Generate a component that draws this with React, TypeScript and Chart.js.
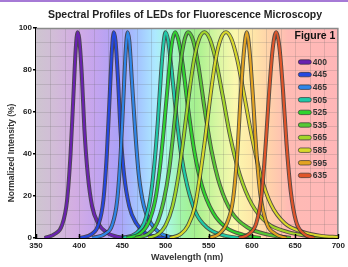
import React, { useEffect, useRef } from "react";
import { Chart, registerables } from "chart.js";

Chart.register(...registerables);

const chartTitle = "Spectral Profiles of LEDs for Fluorescence Microscopy";
const xTitle = "Wavelength (nm)";
const yTitle = "Normalized Intensity (%)";
const figureLabel = "Figure 1";

const ledLabels = ["400", "445", "465", "505", "525", "535", "565", "585", "595", "635"];
const ledColors = ["#6a22b0", "#2448e0", "#2f86e8", "#1fc9a8", "#2fd42f", "#56c834", "#a3d62a", "#d9d92c", "#e3a322", "#e0552a"];

const profile400 = [[360,0],[372,2],[380,6],[386,18],[390,40],[393,65],[396,90],[398,98],[400,95],[403,78],[406,52],[410,30],[415,15],[422,7],[432,2.5],[445,0.5],[460,0]];
const profile445 = [[400,0],[415,2],[422,6],[428,18],[432,40],[435,65],[438,90],[440,98],[442,94],[445,75],[448,50],[452,30],[458,15],[466,7],[476,2.5],[490,0.5],[500,0]];
const profile465 = [[415,0],[430,2],[438,6],[444,18],[448,40],[451,65],[454,90],[456,98],[458,94],[461,75],[465,50],[469,30],[475,15],[483,7],[493,2.5],[505,0.5],[515,0]];
const profile505 = [[450,0],[465,2],[475,7],[482,18],[487,35],[491,55],[495,80],[498,94],[500,98],[503,94],[507,80],[512,60],[518,40],[525,25],[535,12],[548,5],[565,1.5],[585,0]];
const profile525 = [[455,0],[470,2],[480,7],[488,18],[493,32],[498,52],[503,75],[507,92],[511,98],[515,94],[520,82],[526,62],[533,42],[542,25],[555,12],[570,5],[590,1.5],[610,0]];
const profile535 = [[465,0],[480,2],[490,7],[498,18],[504,32],[509,50],[514,70],[519,88],[526,98],[532,94],[538,82],[545,62],[553,42],[563,25],[577,12],[595,5],[620,1.5],[645,0]];
const profile565 = [[480,0],[492,2],[500,6],[508,15],[515,30],[521,48],[527,68],[533,85],[539,95],[545,98],[551,95],[558,85],[566,68],[575,48],[586,30],[600,16],[618,7],[640,3],[665,1],[700,0.3]];
const profile585 = [[505,0],[518,2],[526,6],[534,15],[540,30],[546,48],[552,68],[558,85],[564,95],[570,98],[576,95],[583,85],[591,68],[600,48],[610,30],[622,16],[638,7],[658,3],[680,1],[700,0.5]];
const profile595 = [[550,0],[562,2],[571,7],[578,18],[583,40],[587,68],[591,90],[594,98],[597,90],[601,68],[605,42],[610,20],[617,7],[627,2],[640,0]];
const profile635 = [[585,0],[597,2],[605,7],[611,20],[616,45],[620,70],[624,90],[628,98],[632,90],[636,70],[640,45],[645,22],[651,8],[660,2],[672,0]];

const profiles = [profile400, profile445, profile465, profile505, profile525, profile535, profile565, profile585, profile595, profile635];

const bgWavelengths = [350, 372, 395, 420, 445, 468, 488, 502, 518, 535, 558, 580, 600, 620, 642, 700];
const bgColors = ["#cec5d0", "#d2bcd8", "#d3ade3", "#c3a4ef", "#aca2f8", "#a3c4ff", "#ade9ff", "#aaf8e4", "#a2f4a8", "#a6f08e", "#d4f6a0", "#fbf8ae", "#ffe7a8", "#ffd2aa", "#ffbbb4", "#ffb6b8"];

const xMin = 350, xMax = 700, xStep = 50;
const yMin = 0, yMax = 100, yStep = 20;
const gridDiv = 3;

const FONT = "'Liberation Sans', Arial, sans-serif";
const OUTLINE = "rgba(45,45,45,0.8)";

const decor = {
  id: "decor",
  beforeDraw(chart: any) {
    const ctx = chart.ctx;
    ctx.save();
    ctx.fillStyle = "#a67ad6";
    ctx.fillRect(0, 0, chart.width, 2);
    ctx.restore();
  },
  beforeDatasetsDraw(chart: any) {
    const { ctx, chartArea: a, scales } = chart;
    const xs = scales.x, ys = scales.y;
    ctx.save();
    const g = ctx.createLinearGradient(a.left, 0, a.right, 0);
    bgWavelengths.forEach((w, i) => g.addColorStop((xs.getPixelForValue(w) - a.left) / (a.right - a.left), bgColors[i]));
    ctx.fillStyle = g;
    ctx.fillRect(a.left, a.top, a.right - a.left, a.bottom - a.top);
    ctx.strokeStyle = "rgba(100,100,100,0.2)";
    ctx.lineWidth = 1;
    const nx = ((xMax - xMin) / xStep) * gridDiv;
    for (let k = 1; k < nx; k++) {
      const px = Math.round(xs.getPixelForValue(xMin + (k * xStep) / gridDiv)) + 0.5;
      ctx.beginPath(); ctx.moveTo(px, a.top); ctx.lineTo(px, a.bottom); ctx.stroke();
    }
    const ny = ((yMax - yMin) / yStep) * gridDiv;
    for (let k = 1; k < ny; k++) {
      const py = Math.round(ys.getPixelForValue(yMin + (k * yStep) / gridDiv)) + 0.5;
      ctx.beginPath(); ctx.moveTo(a.left, py); ctx.lineTo(a.right, py); ctx.stroke();
    }
    ctx.strokeStyle = "#8a8a8a";
    ctx.lineWidth = 1.5;
    ctx.beginPath();
    ctx.moveTo(a.left, a.top + 0.5); ctx.lineTo(a.right - 0.5, a.top + 0.5); ctx.lineTo(a.right - 0.5, a.bottom);
    ctx.stroke();
    ctx.restore();
  },
  afterDatasetsDraw(chart: any) {
    const { ctx, chartArea: a, scales } = chart;
    ctx.save();
    ctx.strokeStyle = "#000";
    ctx.lineWidth = 1.5;
    scales.x.ticks.forEach((t: any) => {
      const px = Math.round(scales.x.getPixelForValue(t.value)) + 0.5;
      ctx.beginPath(); ctx.moveTo(px, a.bottom); ctx.lineTo(px, a.bottom - 4); ctx.stroke();
    });
    ctx.fillStyle = "#111";
    ctx.font = `bold 10.5px ${FONT}`;
    ctx.textAlign = "right";
    ctx.textBaseline = "middle";
    ctx.fillText(figureLabel, a.right - 3, a.top + 8);
    const lx = a.right - 40, ly0 = a.top + 34, dy = 12.6;
    ledLabels.forEach((lab, i) => {
      const y = ly0 + i * dy;
      ctx.beginPath();
      const w = 13, h = 4.5, r = 2.2;
      ctx.moveTo(lx + r, y - h / 2);
      ctx.lineTo(lx + w - r, y - h / 2);
      ctx.arc(lx + w - r, y, r, -Math.PI / 2, Math.PI / 2);
      ctx.lineTo(lx + r, y + h / 2);
      ctx.arc(lx + r, y, r, Math.PI / 2, (3 * Math.PI) / 2);
      ctx.closePath();
      ctx.fillStyle = ledColors[i];
      ctx.fill();
      ctx.strokeStyle = OUTLINE;
      ctx.lineWidth = 0.8;
      ctx.stroke();
      ctx.fillStyle = "#333";
      ctx.font = `bold 8.5px ${FONT}`;
      ctx.textAlign = "left";
      ctx.fillText(lab, lx + w + 1.5, y + 0.5);
    });
    ctx.restore();
  },
  afterDraw(chart: any) {
    const { ctx, chartArea: a } = chart;
    ctx.save();
    ctx.fillStyle = "#222";
    ctx.font = `bold 10.5px ${FONT}`;
    ctx.textAlign = "center";
    ctx.textBaseline = "middle";
    ctx.fillText(chartTitle, 185, 15);
    ctx.fillStyle = "#333";
    ctx.font = `bold 9px ${FONT}`;
    ctx.fillText(xTitle, (a.left + a.right) / 2, 258);
    ctx.translate(12, 153);
    ctx.rotate(-Math.PI / 2);
    ctx.font = `bold 8.5px ${FONT}`;
    ctx.fillText(yTitle, 0, 0);
    ctx.restore();
  },
};

export default function App() {
  const ref = useRef<HTMLCanvasElement>(null);
  useEffect(() => {
    document.body.style.margin = "0";
    const datasets: any[] = [];
    profiles.forEach((p, i) => {
      const data = p.map(([x, y]) => ({ x, y }));
      datasets.push({
        label: ledLabels[i] + " outline",
        data,
        borderColor: OUTLINE,
        borderWidth: 4,
        pointRadius: 0,
        cubicInterpolationMode: "monotone",
        fill: false,
        order: 40 - 2 * i,
      });
      datasets.push({
        label: ledLabels[i],
        data,
        borderColor: ledColors[i],
        borderWidth: 2.2,
        pointRadius: 0,
        cubicInterpolationMode: "monotone",
        fill: false,
        order: 39 - 2 * i,
      });
    });
    const chart = new Chart(ref.current!, {
      type: "line",
      data: { datasets },
      plugins: [decor],
      options: {
        responsive: false,
        animation: false,
        events: [],
        layout: { padding: { top: 28, right: 6, left: 0, bottom: 0 } },
        plugins: { legend: { display: false }, tooltip: { enabled: false }, title: { display: false } },
        scales: {
          x: {
            type: "linear",
            min: xMin,
            max: xMax,
            afterFit: (s: any) => { s.height = 29; },
            ticks: { stepSize: xStep, padding: 3, color: "#222", font: { family: FONT, size: 8, weight: "bold" } },
            grid: { display: false, drawTicks: false },
            border: { display: true, color: "#000", width: 2 },
          },
          y: {
            min: yMin,
            max: yMax,
            afterFit: (s: any) => { s.width = 36; },
            ticks: { stepSize: yStep, padding: 1, color: "#222", font: { family: FONT, size: 8, weight: "bold" } },
            grid: { display: true, drawOnChartArea: false, drawTicks: true, tickLength: 3, color: "#000", lineWidth: 1.5 },
            border: { display: true, color: "#000", width: 2 },
          },
        },
      },
    });
    return () => chart.destroy();
  }, []);
  return (
    <div style={{ width: 348, height: 267, background: "#fff" }}>
      <canvas ref={ref} width={348} height={267} style={{ width: 348, height: 267, display: "block" }} />
    </div>
  );
}
